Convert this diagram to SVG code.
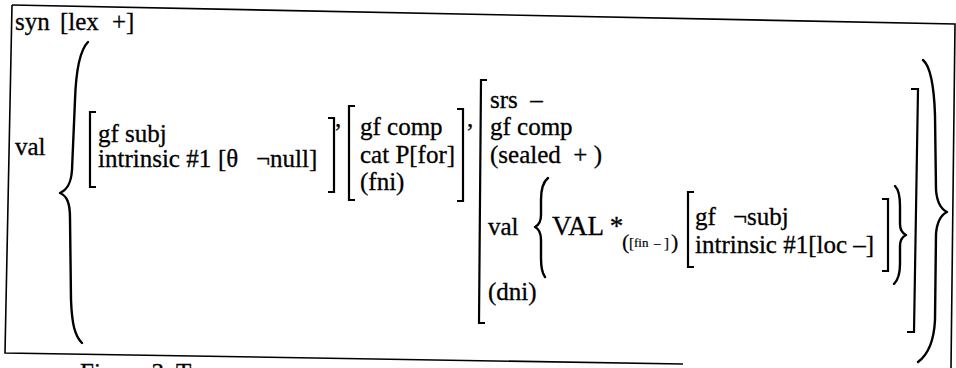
<svg xmlns="http://www.w3.org/2000/svg" width="956" height="368" viewBox="0 0 956 368">
<style>
.t{font-family:"Liberation Serif","Times New Roman",serif;font-size:25px;fill:#000;stroke:#000;stroke-width:0.3;white-space:pre}
.br{fill:none;stroke:#000;stroke-width:2.2;stroke-linejoin:miter}
.brace{fill:none;stroke:#000;stroke-width:2.4;stroke-linecap:round;stroke-linejoin:round}
.frame{fill:none;stroke:#000;stroke-width:1.6}
</style>
<rect x="0" y="0" width="956" height="368" fill="#fff"/>
<g id="frame">
<path class="frame" d="M12,5 L955,24 L951,368"/>
<path class="frame" d="M12,5 L5,353 L683,364"/>
</g>
<g id="syn">
<text class="t" y="30"><tspan x="15">syn</tspan><tspan x="60">[lex</tspan><tspan x="112">+]</tspan></text>
</g>
<g id="val-outer">
<text class="t" x="15" y="155">val</text>
<path class="brace" d="M88,42 C80,50 76,70 75,100 L72,170 C71,184 67,190 60,193 C67,196 70,203 70,218 L71,300 C72,325 75,336 82,343"/>
<path class="brace" d="M923,60 C930,66 934,85 935,115 L936,190 C937,203 941,209 947,212 C941,215 937,221 936,234 L935,320 C934,340 929,354 918,362"/>
</g>
<g id="avm1">
<path class="br" d="M96,112 L90,112 L90,187 L96,187"/>
<text class="t" x="98" y="142">gf subj</text>
<text class="t" y="167"><tspan x="98">intrinsic #1</tspan><tspan x="218">[θ</tspan><tspan x="256">¬null]</tspan></text>
<path class="br" d="M328,118 L334,118 L334,192 L328,192"/>
<text class="t" x="335" y="127">,</text>
</g>
<g id="avm2">
<path class="br" d="M355,106 L349,106 L349,200 L355,200"/>
<text class="t" x="360" y="135">gf comp</text>
<text class="t" x="360" y="163">cat P[for]</text>
<text class="t" x="360" y="190">(fni)</text>
<path class="br" d="M457,109 L463,109 L463,201 L457,201"/>
<text class="t" x="467" y="127">,</text>
</g>
<g id="avm3">
<path class="br" d="M487,80 L481,80 L479,323 L485,323"/>
<text class="t" x="490" y="108">srs  –</text>
<text class="t" x="490" y="135">gf comp</text>
<text class="t" x="490" y="163">(sealed  + )</text>
<text class="t" x="488" y="235">val</text>
<text class="t" x="488" y="300">(dni)</text>
<path class="br" d="M911,89 L918,89 L914,332 L907,332"/>
</g>
<g id="inner-val">
<path class="brace" d="M548,178 C543,182 541,190 541,200 L541,215 C541,222 539,225 535,227 C539,229 541,232 541,240 L541,258 C541,268 542,273 545,277"/>
<text class="t" x="552" y="235" style="font-size:27px">VAL *</text>
<text class="t" y="249" style="stroke-width:0.2"><tspan x="622" style="font-size:22px">(</tspan><tspan x="629" y="248" style="font-size:15px">[</tspan><tspan x="634" y="247" style="font-size:13px">fin</tspan><tspan x="654" y="247" style="font-size:13px">–</tspan><tspan x="664" y="248" style="font-size:15px">]</tspan><tspan x="671" y="249" style="font-size:22px">)</tspan></text>
<path class="br" d="M694,192 L688,192 L688,267 L694,267"/>
<text class="t" y="225"><tspan x="695">gf</tspan><tspan x="733">¬subj</tspan></text>
<text class="t" x="695" y="253">intrinsic #1[loc –]</text>
<path class="br" d="M882,199 L888,199 L888,271 L882,271"/>
<path class="brace" d="M895,186 C899,190 900,197 900,206 L900,224 C900,230 902,233 906,235 C902,237 900,240 900,246 L900,264 C900,273 898,280 894,284"/>
</g>
<g id="caption">
<text class="t" x="80" y="381">Figure 3. T</text>
</g>
</svg>
